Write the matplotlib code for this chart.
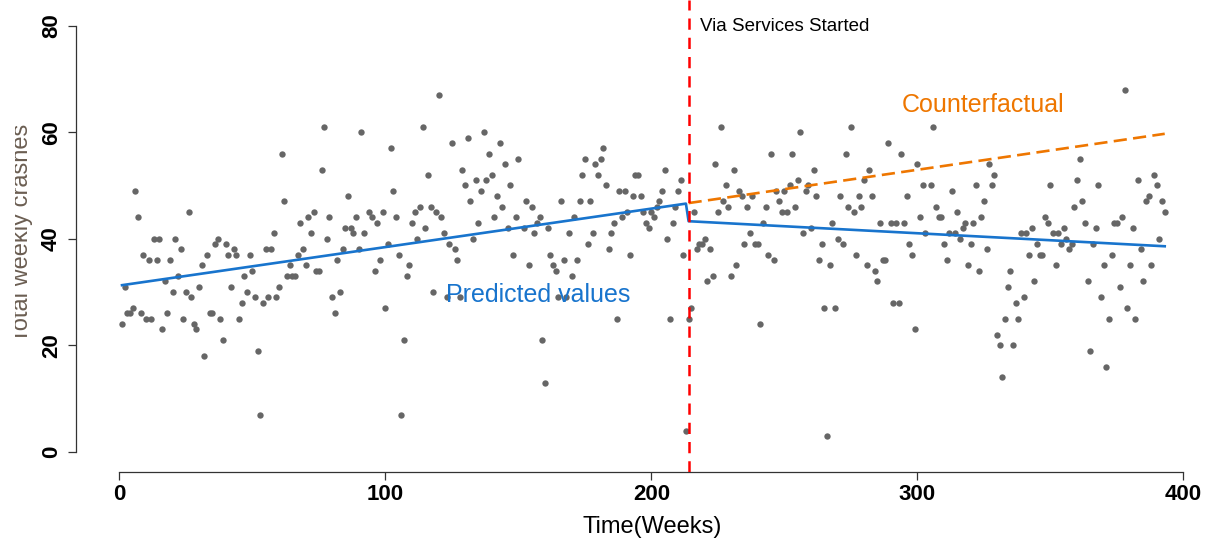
import matplotlib
matplotlib.use("Agg")
import matplotlib.pyplot as plt
from matplotlib.transforms import Bbox, TransformedBbox

# ---- data ----
weeks = [6, 7, 26, 13, 15, 21, 37, 36, 40, 23, 43, 9, 33, 41, 44, 49, 11, 14, 19, 31,
         22, 17, 2, 30, 42, 47, 20, 25, 48, 27, 46, 5, 3, 4, 8, 18, 34, 35, 10, 12,
         24, 38, 45, 1, 28, 29, 16, 39, 32,
         76, 86, 62, 73, 94, 99, 71, 79, 89, 95, 68, 97, 85, 87, 58, 72, 88, 92, 78, 55,
         57, 69, 84, 90, 67, 82, 98, 64, 70, 50, 63, 65, 66, 74, 75, 96, 60, 83, 51, 56,
         59, 80, 54, 81, 100, 52, 53, 77, 91, 61,
         120, 114, 102, 125, 131, 137, 143, 139, 116, 129, 145, 130, 134, 138, 140, 136,
         103, 147, 150, 142, 132, 144, 104, 111, 113, 117, 119, 121, 110, 115, 135, 141,
         149, 146, 122, 112, 101, 133, 124, 126, 105, 127, 148, 109, 108, 118, 123, 128, 107,
         106,
         182, 175, 181, 179, 174, 180, 194, 195, 183, 188, 190, 193, 196, 153, 166, 173,
         177, 155, 197, 200, 191, 158, 171, 189, 157, 186, 198, 152, 161, 199, 156, 169,
         178, 185, 176, 162, 192, 184, 154, 163, 167, 172, 164, 170, 165, 168, 187, 159, 160,
         226, 245, 224, 231, 205, 211, 228, 204, 210, 233, 247, 250, 234, 238, 203, 227,
         248, 209, 229, 236, 243, 202, 216, 225, 249, 251, 201, 208, 242, 237, 206, 220,
         218, 219, 235, 239, 240, 217, 222, 212, 244, 246, 232, 223, 230, 221, 215, 207,
         214, 241, 213,
         275, 256, 289, 253, 273, 294, 300, 261, 282, 255, 280, 252, 259, 302, 258, 262,
         271, 278, 283, 296, 254, 274, 279, 276, 301, 268, 286, 290, 292, 295, 260, 257,
         270, 264, 272, 297, 277, 298, 263, 287, 288, 267, 281, 284, 285, 291, 293, 265,
         269, 299, 266,
         306, 327, 329, 305, 322, 328, 350, 313, 325, 307, 315, 308, 309, 324, 348, 318,
         321, 349, 317, 343, 303, 312, 314, 339, 341, 351, 353, 316, 310, 320, 345, 326,
         342, 346, 347, 311, 319, 352, 323, 335, 344, 334, 340, 337, 333, 338, 330, 331,
         336, 332,
         378, 361, 360, 383, 389, 368, 390, 387, 362, 386, 392, 359, 393, 377, 363, 374,
         375, 355, 367, 381, 356, 391, 354, 358, 366, 357, 384, 373, 370, 380, 388, 364,
         385, 376, 369, 379, 372, 382, 365, 371]

crashes = [49, 44, 45, 40, 40, 40, 40, 39, 39, 38, 38, 37, 37, 37, 37, 37, 36, 36, 36, 35,
           33, 32, 31, 31, 31, 33, 30, 30, 30, 29, 28, 27, 26, 26, 26, 26, 26, 26, 25, 25,
           25, 25, 25, 24, 24, 23, 23, 21, 18,
           53, 48, 47, 45, 45, 45, 44, 44, 44, 44, 43, 43, 42, 42, 41, 41, 41, 41, 40, 38,
           38, 38, 38, 38, 37, 36, 36, 35, 35, 34, 33, 33, 33, 34, 34, 34, 31, 30, 29, 29,
           29, 29, 28, 26, 27, 19, 7, 61, 60, 56,
           67, 61, 57, 58, 59, 60, 58, 56, 52, 53, 54, 50, 51, 51, 52, 49,
           49, 50, 55, 48, 47, 46, 44, 45, 46, 46, 45, 44, 43, 42, 43, 44,
           44, 42, 41, 40, 39, 40, 39, 38, 37, 36, 37, 35, 33, 30, 29, 29, 21,
           7,
           57, 55, 55, 54, 52, 52, 52, 52, 50, 49, 49, 48, 48, 47, 47, 47,
           47, 46, 45, 45, 45, 44, 44, 44, 43, 43, 43, 42, 42, 42, 41, 41,
           41, 41, 39, 37, 37, 38, 35, 35, 36, 36, 34, 33, 29, 29, 25, 21, 13,
           61, 56, 54, 53, 53, 51, 50, 49, 49, 49, 49, 49, 48, 48, 47, 47,
           47, 46, 46, 46, 46, 46, 45, 45, 45, 45, 44, 43, 43, 41, 40, 40,
           39, 39, 39, 39, 39, 38, 38, 37, 37, 36, 35, 33, 33, 32, 27, 25,
           25, 24, 4,
           61, 60, 58, 56, 56, 56, 54, 53, 53, 51, 51, 50, 50, 50, 49, 48,
           48, 48, 48, 48, 46, 46, 46, 45, 44, 43, 43, 43, 43, 43, 42, 41,
           40, 39, 39, 39, 37, 37, 36, 36, 36, 35, 35, 34, 32, 28, 28, 27,
           27, 23, 3,
           61, 54, 52, 50, 50, 50, 50, 49, 47, 46, 45, 44, 44, 44, 44, 43,
           43, 43, 42, 42, 41, 41, 41, 41, 41, 41, 41, 40, 39, 39, 39, 38,
           37, 37, 37, 36, 35, 35, 34, 34, 32, 31, 29, 28, 25, 25, 22, 20,
           20, 14,
           68, 55, 51, 51, 52, 50, 50, 48, 47, 47, 47, 46, 45, 44, 43, 43,
           43, 42, 42, 42, 40, 40, 39, 39, 39, 38, 38, 37, 35, 35, 35, 32,
           32, 31, 29, 27, 25, 25, 19, 16]

# fitted / counterfactual segments (end points)
pred_weeks = [1, 213, 214, 393]
pred_values = [31.3, 46.6, 43.3, 38.6]
cf_weeks = [214, 393]
cf_values = [46.7, 59.7]
intervention_week = 214

x_ticks = [0, 100, 200, 300, 400]
y_ticks = [0, 20, 40, 60, 80]

W, H = 1215, 546
fig = plt.figure(figsize=(W / 100, H / 100), dpi=100)
ax = fig.add_axes([76 / W, (H - 472) / H, (W - 76) / W, 472 / H])
ax.set_xlim(-16.3, 411.9)
ax.set_ylim(-3.75, 84.8)

ax.scatter(weeks, crashes, s=21, color="#666666", linewidths=0, zorder=2)
ax.plot(pred_weeks, pred_values, color="#1874CD", lw=1.9, zorder=3)
ax.plot(cf_weeks, cf_values, color="#EE7600", lw=1.9, dashes=(5, 2.4), zorder=3)
ax.axvline(intervention_week, color="#FF0000", lw=1.8, dashes=(4.5, 3.2), zorder=4)

font = "Liberation Sans"
ax.text(218.3, 79.9, "Via Services Started", fontsize=13.5, family=font,
        ha="left", va="center", color="black")
ax.text(324.7, 65.1, "Counterfactual", fontsize=18, family=font,
        ha="center", va="center", color="#EE7600")
ax.text(157.4, 29.4, "Predicted values", fontsize=18, family=font,
        ha="center", va="center", color="#1874CD")

for s in ["top", "right"]:
    ax.spines[s].set_visible(False)
ax.spines["left"].set_bounds(0, 80)
ax.spines["bottom"].set_bounds(0, 400)
for s in ["left", "bottom"]:
    ax.spines[s].set_color("#333333")
    ax.spines[s].set_linewidth(0.9)

ax.set_xticks(x_ticks)
ax.set_yticks(y_ticks)
ax.set_xticklabels([str(t) for t in x_ticks], fontsize=16, fontweight="bold", family=font)
ax.set_yticklabels([str(t) for t in y_ticks], fontsize=16, fontweight="bold", family=font,
                   rotation=90, va="center")
ax.tick_params(axis="both", direction="out", length=6, width=0.9, color="#333333")
ax.tick_params(axis="x", pad=3)
ax.tick_params(axis="y", pad=4)

fig.text(652 / W, 1 - 527 / H, "Time(Weeks)", fontsize=17, family=font,
         ha="center", va="center", color="black")
ylab = fig.text(33 / W, 1 - 233 / H, "Total weekly crashes", fontsize=17, family=font,
                rotation=90, ha="right", va="center", color="#6B5E52", zorder=0)
# the reference shows this label partly cut off on its left side
ylab.set_clip_box(TransformedBbox(Bbox([[15 / W, 0], [1, 1]]), fig.transFigure))
ylab.set_clip_on(True)

fig.savefig("out.png", dpi=100)
